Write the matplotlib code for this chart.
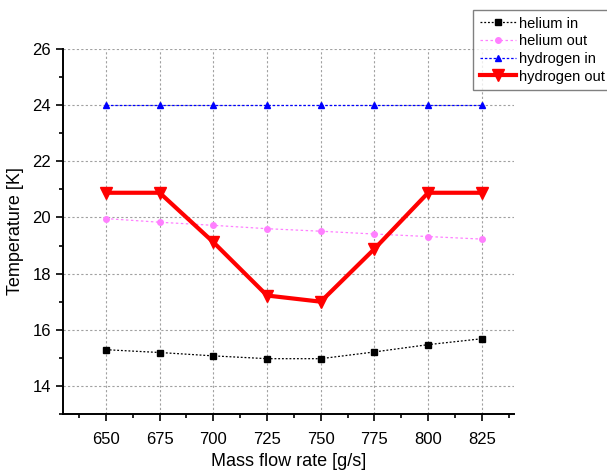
import matplotlib
matplotlib.use("Agg")
import matplotlib.pyplot as plt
from matplotlib.ticker import MultipleLocator

plt.rcParams['font.family'] = ['Liberation Sans', 'DejaVu Sans']

flow = [650, 675, 700, 725, 750, 775, 800, 825]
helium_in = [15.29, 15.19, 15.07, 14.97, 14.97, 15.21, 15.47, 15.68]
helium_out = [19.96, 19.83, 19.72, 19.60, 19.51, 19.41, 19.32, 19.23]
hydrogen_in = [24.0, 24.0, 24.0, 24.0, 24.0, 24.0, 24.0, 24.0]
hydrogen_out = [20.88, 20.88, 19.12, 17.22, 17.0, 18.88, 20.88, 20.88]

fig = plt.figure(figsize=(6.07, 4.74), dpi=100)
ax = fig.add_axes([0.1038, 0.1266, 0.7430, 0.7700])

ax.plot(flow, helium_in, linestyle=(0, (1.5, 1.5)), color='black', lw=0.9,
        marker='s', ms=4, label='helium in')
ax.plot(flow, helium_out, linestyle=(0, (2, 2)), color='#ff80ff', lw=0.9,
        marker='o', ms=4, label='helium out')
ax.plot(flow, hydrogen_in, linestyle=(0, (2, 1.5)), color='blue', lw=0.9,
        marker='^', ms=5, label='hydrogen in')
ax.plot(flow, hydrogen_out, linestyle='-', color='red', lw=3,
        marker='v', ms=9, label='hydrogen out')

ax.set_xlim(630, 840)
ax.set_ylim(13, 26)
ax.xaxis.set_major_locator(MultipleLocator(25))
ax.xaxis.set_minor_locator(MultipleLocator(12.5))
ax.yaxis.set_major_locator(MultipleLocator(2))
ax.yaxis.set_minor_locator(MultipleLocator(1))
ax.tick_params(which='major', direction='out', length=5, width=1.2, labelsize=12)
ax.tick_params(axis='x', which='major', pad=8)
ax.tick_params(which='minor', direction='out', length=3, width=1.2)
ax.spines['top'].set_visible(False)
ax.spines['right'].set_visible(False)
ax.spines['left'].set_linewidth(1.4)
ax.spines['bottom'].set_linewidth(1.4)
ax.grid(True, which='major', color='#a0a0a0', linestyle=(0, (2, 2)), lw=0.8)
ax.set_axisbelow(True)

ax.set_xlabel('Mass flow rate [g/s]', fontsize=13, labelpad=4)
ax.set_ylabel('Temperature [K]', fontsize=13, labelpad=6)

leg = fig.legend(loc='upper left', bbox_to_anchor=(473/607, 1 - 10/474),
                 fontsize=10.5, frameon=True, fancybox=False,
                 borderpad=0.45, labelspacing=0.25, handlelength=2.5,
                 handletextpad=0.2, borderaxespad=0)
leg.get_frame().set_edgecolor('#606060')
leg.get_frame().set_linewidth(1.0)

fig.savefig('out.png', dpi=100)
